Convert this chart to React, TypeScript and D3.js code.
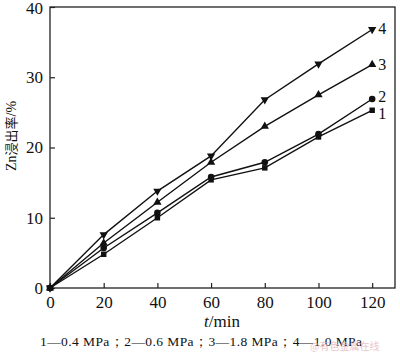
import React, { useEffect, useRef } from 'react'
import * as d3 from 'd3'

const times = [0, 20, 40, 60, 80, 100, 120]
const s1 = [0, 4.8, 10.0, 15.4, 17.1, 21.5, 25.3]
const s2 = [0, 5.7, 10.7, 15.8, 17.9, 21.9, 26.9]
const s3 = [0, 6.4, 12.2, 17.9, 23.0, 27.5, 31.8]
const s4 = [0, 7.6, 13.8, 18.8, 26.8, 31.9, 36.8]
const seriesNames = ['1', '2', '3', '4']
const xTicks = [0, 20, 40, 60, 80, 100, 120]
const yTicks = [0, 10, 20, 30, 40]
const caption = '1—0.4 MPa；2—0.6 MPa；3—1.8 MPa；4—1.0 MPa'

const FONT = '"Liberation Serif", "Times New Roman", serif'

export default function App() {
  const ref = useRef<SVGSVGElement>(null)

  useEffect(() => {
    const svg = d3.select(ref.current)
    svg.selectAll('*').remove()
    const marge = { left: 50, top: 7, right: 395, bottom: 288 }

    const xScale = d3.scaleLinear().domain([0, 128.5]).range([marge.left, marge.right])
    const yScale = d3.scaleLinear().domain([0, 40]).range([marge.bottom, marge.top])

    // frame
    svg.append('rect')
      .attr('x', marge.left).attr('y', marge.top)
      .attr('width', marge.right - marge.left).attr('height', marge.bottom - marge.top)
      .attr('fill', 'none').attr('stroke', '#222').attr('stroke-width', 1.3)

    const yAxis = d3.axisLeft(yScale).tickValues(yTicks).tickSize(-5).tickPadding(7)
    const gy = svg.append('g').attr('transform', `translate(${marge.left},0)`).call(yAxis)
    const xAxis = d3.axisBottom(xScale).tickValues(xTicks).tickSize(-5).tickPadding(8)
    const gx = svg.append('g').attr('transform', `translate(0,${marge.bottom})`).call(xAxis)
    ;[gx, gy].forEach(g => {
      g.select('.domain').remove()
      g.selectAll('line').attr('stroke', '#222').attr('stroke-width', 1.2)
      g.selectAll('text').attr('font-family', FONT).attr('font-size', 17).attr('fill', '#111')
    })
    // nudge top label so it stays on the page
    gy.selectAll('text').filter(d => d === 40).attr('dy', '0.4em')

    const all = [s1, s2, s3, s4]
    const shapes = [d3.symbolSquare, d3.symbolCircle, d3.symbolTriangle, d3.symbolTriangle]
    const labelShift = [9, 3, 5, 5]
    const line = d3.line<number>().x((d, i) => xScale(times[i])).y(d => yScale(d))

    all.forEach((vals, k) => {
      svg.append('path')
        .attr('d', line(vals))
        .attr('fill', 'none').attr('stroke', '#111').attr('stroke-width', 1.4)
      const sym = d3.symbol().type(shapes[k]).size(k === 1 ? 34 : 30)
      svg.selectAll(`.m${k}`)
        .data(vals)
        .enter()
        .append('path')
        .attr('d', sym)
        .attr('fill', '#111')
        .attr('transform', (d, i) =>
          `translate(${xScale(times[i])},${yScale(d)})` + (k === 3 ? ' rotate(180)' : ''))
      svg.append('text')
        .attr('x', xScale(120) + 6)
        .attr('y', yScale(vals[vals.length - 1]) + labelShift[k])
        .attr('font-family', FONT).attr('font-size', 16).attr('fill', '#111')
        .text(seriesNames[k])
    })

    // y title
    const yt = svg.append('text')
      .attr('transform', `translate(16,136) rotate(-90)`)
      .attr('text-anchor', 'middle')
      .attr('font-size', 14).attr('fill', '#111')
    yt.append('tspan').attr('font-family', FONT).text('Zn')
    yt.append('tspan').attr('font-family', '"Noto Sans CJK SC"').attr('font-size', 13).text('浸出率')
    yt.append('tspan').attr('font-family', FONT).text('/%')

    // x title
    const xt = svg.append('text')
      .attr('x', 222).attr('y', 327)
      .attr('text-anchor', 'middle')
      .attr('font-family', FONT).attr('font-size', 17).attr('fill', '#111')
    xt.append('tspan').attr('font-style', 'italic').text('t')
    xt.append('tspan').text('/min')

    svg.append('text')
      .attr('x', 40).attr('y', 346)
      .attr('font-family', FONT).attr('font-size', 13.5).attr('fill', '#111')
      .attr('textLength', 322)
      .text(caption)

    svg.append('text')
      .attr('x', 310).attr('y', 350)
      .attr('font-family', '"Noto Sans CJK SC"').attr('font-size', 10)
      .attr('fill', '#e6b8bc').attr('opacity', 0.8)
      .text('@有色金属在线')
  }, [])

  return (
    <svg ref={ref} width={400} height={354}
      style={{ position: 'absolute', left: 0, top: 0, background: '#fff' }} />
  )
}
